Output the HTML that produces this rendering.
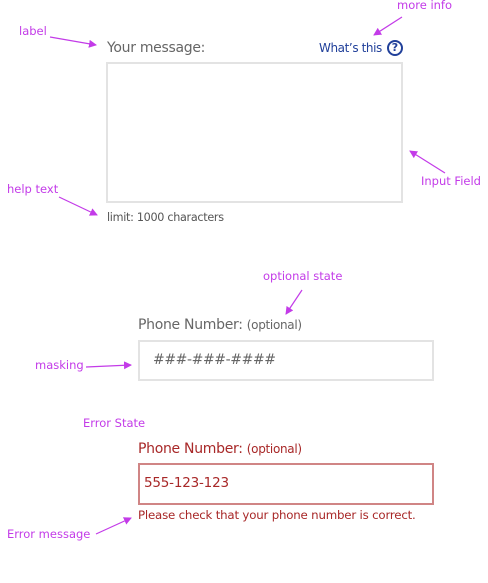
<!DOCTYPE html>
<html><head><meta charset="utf-8"><style>
html,body{margin:0;padding:0;background:#fff;width:488px;height:583px;overflow:hidden}
body{position:relative;font-family:"DejaVu Sans","Liberation Sans",sans-serif}
.t{position:absolute;white-space:nowrap;line-height:1}
.m{color:#c33be8;font-size:11.5px}
.box{position:absolute;box-sizing:border-box}
</style></head><body>
<div class="t m" style="left:19px;top:26px">label</div>
<div class="t m" style="left:397px;top:0px">more info</div>
<div class="t m" style="left:421px;top:176px">Input Field</div>
<div class="t m" style="left:7px;top:184px">help text</div>
<div class="t m" style="left:263px;top:271px">optional state</div>
<div class="t m" style="left:35px;top:360px">masking</div>
<div class="t m" style="left:83px;top:418px">Error State</div>
<div class="t m" style="left:7px;top:529px">Error message</div>

<div class="t" style="left:107px;top:41px;font-size:14px;color:#666;letter-spacing:-0.3px">Your message:</div>
<div class="t" style="left:319px;top:42px;font-size:12px;color:#21409a;letter-spacing:-0.4px">What’s this</div>
<div class="box" style="left:387px;top:40px;width:16px;height:16px;border:2px solid #21409a;border-radius:50%;color:#21409a;font-size:11px;font-weight:bold;text-align:center;line-height:12px">?</div>
<div class="box" style="left:106px;top:62px;width:297px;height:141px;border:2px solid #e3e3e3"></div>
<div class="t" style="left:107px;top:212px;font-size:11.2px;color:#555;letter-spacing:-0.3px">limit: 1000 characters</div>

<div class="t" style="left:138px;top:318px;font-size:14px;color:#666;letter-spacing:-0.3px">Phone Number: <span style="font-size:12px">(optional)</span></div>
<div class="box" style="left:138px;top:340px;width:296px;height:41px;border:2px solid #e3e3e3"></div>
<div class="t" style="left:153px;top:353px;font-size:14px;color:#666;letter-spacing:-0.4px">###-###-####</div>

<div class="t" style="left:138px;top:442px;font-size:14px;color:#a82828;letter-spacing:-0.3px">Phone Number: <span style="font-size:12px">(optional)</span></div>
<div class="box" style="left:138px;top:463px;width:296px;height:42px;border:2px solid #d08585"></div>
<div class="t" style="left:144px;top:477px;font-size:13.5px;color:#a82828;letter-spacing:-0.2px">555-123-123</div>
<div class="t" style="left:138px;top:510px;font-size:11.8px;color:#a82828;letter-spacing:-0.2px">Please check that your phone number is correct.</div>

<svg width="488" height="583" style="position:absolute;left:0;top:0" xmlns="http://www.w3.org/2000/svg">
<defs><marker id="a" markerWidth="8" markerHeight="8" refX="7" refY="4" orient="auto" markerUnits="userSpaceOnUse"><path d="M0,0 L8,4 L0,8 z" fill="#c33be8"/></marker></defs>
<g stroke="#c33be8" stroke-width="1.2" fill="none" marker-end="url(#a)">
<line x1="50" y1="37" x2="96" y2="45"/>
<line x1="402" y1="17" x2="374" y2="35"/>
<line x1="445" y1="173" x2="410" y2="151"/>
<line x1="59" y1="197" x2="97" y2="215"/>
<line x1="302" y1="290" x2="286" y2="314"/>
<line x1="86" y1="367" x2="131" y2="365"/>
<line x1="96" y1="534" x2="131" y2="518"/>
</g></svg>
</body></html>
